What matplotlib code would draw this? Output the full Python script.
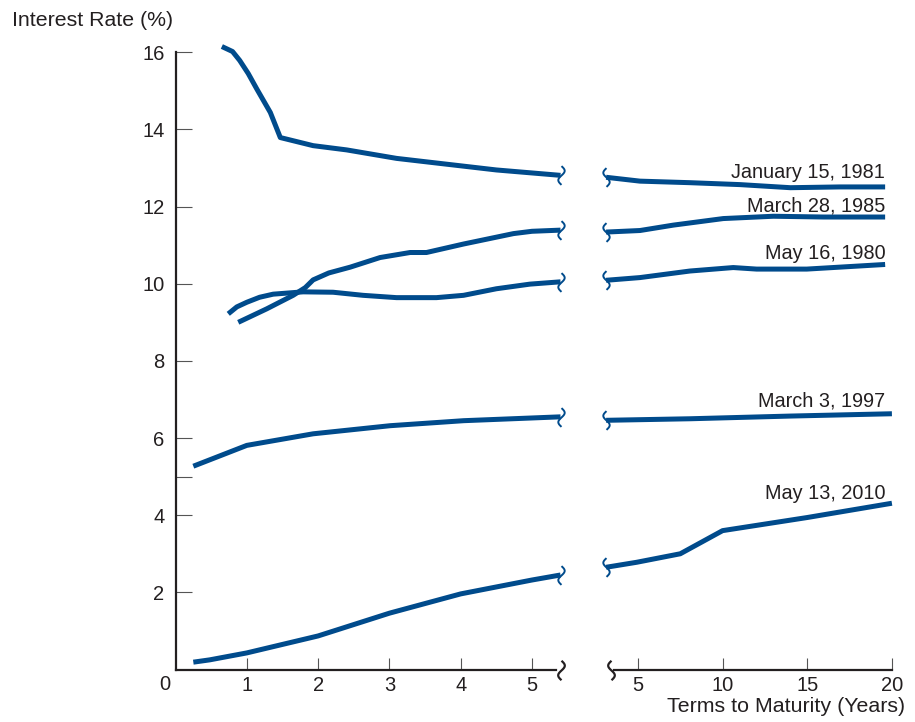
import numpy as np
import matplotlib
matplotlib.use("Agg")
import matplotlib.pyplot as plt
from matplotlib.path import Path

plt.rcParams['font.family'] = ['Liberation Sans', 'DejaVu Sans']

# ---- data (years to maturity, interest rate %) ----
jan81_left_x = [0.65, 0.80, 0.90, 1.02, 1.14, 1.33, 1.47, 1.93, 2.40, 3.10, 3.80, 4.50, 5.40]
jan81_left_y = [16.15, 16.02, 15.79, 15.45, 15.05, 14.44, 13.79, 13.58, 13.47, 13.25, 13.10, 12.95, 12.81]
jan81_right_x = [3.12, 5.12, 8.07, 11.03, 14.0, 16.93, 19.6]
jan81_right_y = [12.76, 12.66, 12.62, 12.57, 12.49, 12.51, 12.51]

mar85_left_x = [0.88, 1.28, 1.65, 1.82, 1.93, 2.15, 2.45, 2.87, 3.29, 3.52, 4.04, 4.74, 5.0, 5.40]
mar85_left_y = [9.00, 9.35, 9.70, 9.90, 10.10, 10.28, 10.43, 10.68, 10.81, 10.81, 11.03, 11.30, 11.36, 11.39]
mar85_right_x = [3.12, 5.12, 7.09, 10.04, 13.0, 15.95, 19.6]
mar85_right_y = [11.34, 11.38, 11.52, 11.69, 11.75, 11.73, 11.73]

may80_left_x = [0.74, 0.86, 1.0, 1.18, 1.37, 1.79, 2.21, 2.63, 3.10, 3.66, 4.04, 4.50, 4.97, 5.40]
may80_left_y = [9.22, 9.40, 9.52, 9.65, 9.73, 9.79, 9.78, 9.70, 9.64, 9.64, 9.70, 9.87, 9.99, 10.05]
may80_right_x = [3.12, 5.12, 8.07, 10.63, 12.01, 14.97, 19.6]
may80_right_y = [10.09, 10.16, 10.33, 10.42, 10.38, 10.38, 10.50]

mar97_left_x = [0.25, 1.0, 1.93, 3.01, 4.04, 5.40]
mar97_left_y = [5.27, 5.81, 6.11, 6.32, 6.45, 6.55]
mar97_right_x = [3.12, 8.07, 14.0, 20.0]
mar97_right_y = [6.46, 6.50, 6.57, 6.63]

may10_left_x = [0.25, 0.48, 1.0, 2.0, 3.0, 4.0, 5.0, 5.40]
may10_left_y = [0.19, 0.25, 0.43, 0.87, 1.46, 1.96, 2.32, 2.45]
may10_right_x = [3.12, 4.93, 7.5, 10.0, 15.0, 20.0]
may10_right_y = [2.65, 2.78, 3.0, 3.6, 3.94, 4.31]

series_labels = ['January 15, 1981', 'March 28, 1985', 'May 16, 1980',
                 'March 3, 1997', 'May 13, 2010']
label_y = [12.74, 11.88, 10.65, 6.83, 4.42]

left_ticks = [1, 2, 3, 4, 5]
right_ticks = [5, 10, 15, 20]
y_ticks = [2, 4, 5, 6, 8, 10, 12, 14, 16]
y_ticklabels = ['2', '4', '', '6', '8', '10', '12', '14', '16']

BLUE = '#004b8c'
INK = '#231f20'
W, H = 915, 722


def break_marker(sign=1):
    # little vertical squiggle used for the scale break
    t = np.linspace(0, 1, 40)
    x = sign * 0.17 * np.sin(2 * np.pi * t)
    y = 0.5 - t
    return Path(np.column_stack([x, y]))


fig = plt.figure(figsize=(W / 100, H / 100), dpi=100)

y0, y16 = 669.5, 52.3
ax1 = fig.add_axes([175.5 / W, (H - y0) / H, 5.5 * 71.3 / W, (y0 - y16) / H])
ax2 = fig.add_axes([602.4 / W, (H - y0) / H, 17.1 * 16.93 / W, (y0 - y16) / H])
ax1.set_xlim(0, 5.5)
ax2.set_xlim(2.9, 20.0)
for ax in (ax1, ax2):
    ax.set_ylim(0, 16)
    ax.patch.set_alpha(0)
    for s in ('top', 'right'):
        ax.spines[s].set_visible(False)
    ax.spines['bottom'].set_color(INK)
    ax.spines['bottom'].set_linewidth(1.6)
    ax.tick_params(axis='x', direction='in', length=8.6, width=0.8, color='#555555',
                   labelsize=14.5, labelcolor=INK, pad=5)
ax2.spines['left'].set_visible(False)
ax2.set_yticks([])
ax1.spines['left'].set_color(INK)
ax1.spines['left'].set_linewidth(1.6)
ax1.spines['bottom'].set_bounds(0, 5.33)
ax2.spines['bottom'].set_bounds(3.6, 20)

ax1.set_xticks(left_ticks)
ax1.set_xticklabels([str(v) for v in left_ticks])
ax2.set_xticks(right_ticks)
ax2.set_xticklabels([str(v) for v in right_ticks])
ax1.set_yticks(y_ticks)
ax1.set_yticklabels(y_ticklabels)
ax1.tick_params(axis='y', direction='in', length=11.5, width=0.8, color='#555555',
                labelsize=14.5, labelcolor=INK, pad=8)

left_sets = [(jan81_left_x, jan81_left_y), (mar85_left_x, mar85_left_y),
             (may80_left_x, may80_left_y), (mar97_left_x, mar97_left_y),
             (may10_left_x, may10_left_y)]
right_sets = [(jan81_right_x, jan81_right_y), (mar85_right_x, mar85_right_y),
              (may80_right_x, may80_right_y), (mar97_right_x, mar97_right_y),
              (may10_right_x, may10_right_y)]

for (lx, ly), (rx, ry) in zip(left_sets, right_sets):
    ax1.plot(lx, ly, color=BLUE, lw=3.6, solid_capstyle='butt',
             solid_joinstyle='round', clip_on=False)
    ax1.plot(lx[-1], ly[-1], marker=break_marker(1), ms=13.5, mew=1.4,
             mec=BLUE, mfc='none', clip_on=False)
    ax2.plot(rx, ry, color=BLUE, lw=3.6, solid_capstyle='butt',
             solid_joinstyle='round', clip_on=False)
    ax2.plot(rx[0], ry[0], marker=break_marker(-1), ms=13.5, mew=1.4,
             mec=BLUE, mfc='none', clip_on=False)

# breaks on the x axis
ax1.plot(5.41, 0, marker=break_marker(1), ms=14, mew=1.6, mec=INK, mfc='none', clip_on=False)
ax2.plot(3.42, 0, marker=break_marker(-1), ms=14, mew=1.6, mec=INK, mfc='none', clip_on=False)

for lab, yy in zip(series_labels, label_y):
    ax2.text(19.6, yy, lab, ha='right', va='baseline', fontsize=14.3, color=INK)

ax1.annotate('0', xy=(0, 0), xycoords='axes fraction', xytext=(-11, -15),
             textcoords='offset pixels', ha='center', va='center',
             fontsize=14.5, color=INK)

fig.text(12 / W, 1 - 21 / H, 'Interest Rate (%)', ha='left', va='center',
         fontsize=15.3, color=INK)
fig.text(905 / W, 1 - 707 / H, 'Terms to Maturity (Years)', ha='right', va='center',
         fontsize=15.4, color=INK)

fig.savefig('out.png', dpi=100, facecolor='white')
